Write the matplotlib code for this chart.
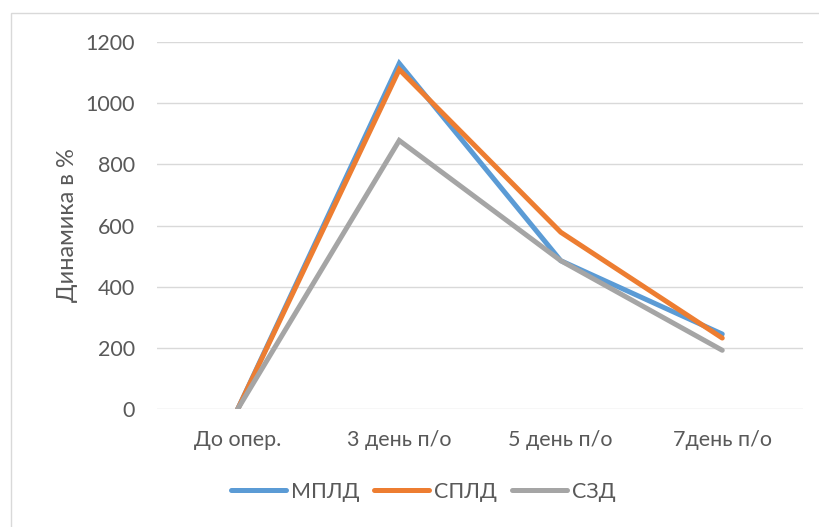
import matplotlib.pyplot as plt
from matplotlib.patches import Rectangle

categories = ['До опер.', '3 день п/о', '5 день п/о', '7день п/о']
mpld = [0, 1130, 485, 245]
spld = [0, 1110, 578, 232]
szd = [0, 878, 485, 192]
series_names = ['МПЛД', 'СПЛД', 'СЗД']
colors = ['#5B9BD5', '#ED7D31', '#A5A5A5']

text_color = '#595959'
plt.rcParams['font.family'] = ['Lato', 'DejaVu Sans']

fig = plt.figure(figsize=(8.19, 5.27), dpi=100)
fig.patches.append(Rectangle((11 / 819, -0.01), 1.0, 1 - 13 / 527 + 0.01,
                             transform=fig.transFigure, fill=False,
                             edgecolor='#d9d9d9', linewidth=1))

ax = fig.add_axes([157 / 819, 1 - 409 / 527, 646 / 819, 367 / 527])
x = list(range(len(categories)))
for vals, name, c in zip([mpld, spld, szd], series_names, colors):
    ax.plot(x, vals, color=c, linewidth=3.6, label=name,
            solid_capstyle='round', solid_joinstyle='miter')

ax.set_xlim(-0.5, len(categories) - 0.5)
ax.set_ylim(0, 1200)
ax.set_yticks(range(0, 1201, 200))
ax.set_xticks(x)
ax.set_xticklabels(categories)
ax.grid(axis='y', color='#d9d9d9', linewidth=1)
ax.set_axisbelow(True)
for s in ax.spines.values():
    s.set_visible(False)
ax.tick_params(length=0, labelsize=15.5, colors=text_color)
ax.tick_params(axis='y', pad=16)
ax.tick_params(axis='x', pad=15)
ax.set_ylabel('Динамика в %', fontsize=17, color=text_color, labelpad=5)

fig.legend(loc='center', bbox_to_anchor=(423 / 819, 1 - 492 / 527), ncol=3,
           frameon=False, fontsize=15.5, handlelength=2.56, handletextpad=0.22,
           columnspacing=0.7, labelcolor=text_color)

fig.savefig('out.png', dpi=100)
